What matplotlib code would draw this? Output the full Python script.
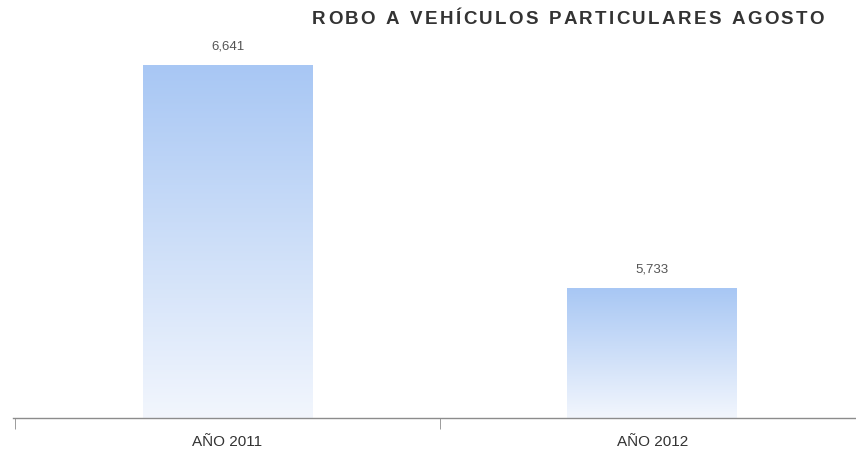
import numpy as np
import matplotlib.pyplot as plt
from matplotlib.colors import LinearSegmentedColormap

# Daten
categorias = ["AÑO 2011", "AÑO 2012"]
robos = [6641, 5733]
etiquetas = ["6,641", "5,733"]

titulo = "ROBO A VEHÍCULOS PARTICULARES AGOSTO"

plt.rcParams["font.family"] = ["Liberation Sans", "DejaVu Sans"]

fig = plt.figure(figsize=(8.56, 4.53), dpi=100)
ax = fig.add_axes([13 / 856, 35 / 453, 854 / 856, 388 / 453])

y_min = 5204
y_max = 5204 + 388 * 4.072
x = np.arange(len(robos))
ancho = 0.4

# Verlauf: oben blau, unten fast weiss
cmap = LinearSegmentedColormap.from_list("verlauf", ["#f2f6fd", "#a8c7f4"])
grad = np.linspace(0, 1, 256).reshape(-1, 1)

bars = ax.bar(x, robos, width=ancho, bottom=0, color="none", edgecolor="none")
for b, val, lab in zip(bars, robos, etiquetas):
    x0 = b.get_x()
    img = ax.imshow(grad, cmap=cmap, aspect="auto", origin="lower",
                    extent=[x0, x0 + ancho, y_min, val], zorder=2)
    img.set_clip_path(b)
    ax.text(b.get_x() + ancho / 2, val + 50, lab, ha="center", va="bottom",
            fontsize=9.5, color="#555555")

ax.set_xlim(-0.505, 1.505)
ax.set_ylim(y_min, y_max)

for s in ["top", "right", "left"]:
    ax.spines[s].set_visible(False)
ax.spines["bottom"].set_color("#8c8c8c")
ax.spines["bottom"].set_linewidth(1)
ax.set_yticks([])

ax.set_xticks(x)
ax.set_xticklabels(categorias, fontsize=11, color="#333333")
ax.tick_params(axis="x", which="major", length=0, pad=12)
ax.set_xticks([-0.5, 0.5, 1.5], minor=True)
ax.tick_params(axis="x", which="minor", length=8, direction="out", color="#8c8c8c")

# Titel mit etwas Buchstabenabstand (wie im Original)
renderer = fig.canvas.get_renderer()
props = dict(fontsize=13.5, fontweight="bold", color="#333333")
breiten = []
for ch in titulo:
    t = fig.text(0, 0, ch if ch != " " else "a", **props)
    breiten.append(t.get_window_extent(renderer).width * (0.6 if ch == " " else 1))
    t.remove()
abstand = 2.3
gesamt = sum(breiten) + abstand * (len(titulo) - 1)
pos = 568 - gesamt / 2
for ch, w in zip(titulo, breiten):
    fig.text(pos / 856, 1 - 19 / 453, ch, ha="left", va="center", **props)
    pos += w + abstand

fig.savefig("out.png", dpi=100)
